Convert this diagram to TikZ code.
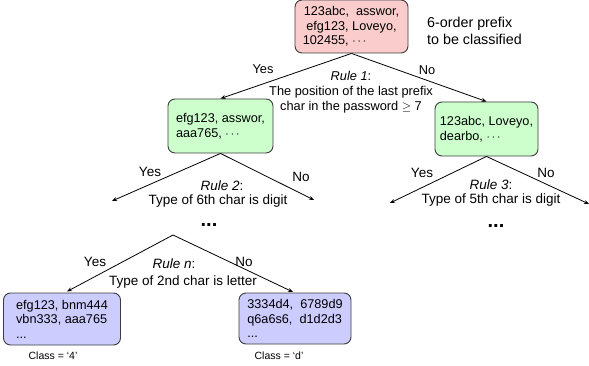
\documentclass[tikz,border=0pt]{standalone}
\usepackage{fontspec}
\setmainfont{Liberation Sans}
\usetikzlibrary{arrows.meta}
\definecolor{pinkfill}{RGB}{250,204,204}
\definecolor{greenfill}{RGB}{204,255,204}
\definecolor{bluefill}{RGB}{204,204,255}
\definecolor{boxline}{RGB}{60,60,60}
\tikzset{
  box/.style={draw=boxline, line width=0.9pt, rounded corners=7pt, inner sep=0pt,
    font=\fontsize{12.7}{14.5}\selectfont},
  conn/.style={line width=0.8pt, -{Stealth[length=5pt,width=4pt]}},
  lbl/.style={font=\fontsize{13.5}{14}\selectfont, inner sep=0pt},
  small/.style={font=\fontsize{12.8}{15}\selectfont, inner sep=0pt},
  cls/.style={font=\fontsize{10.5}{12}\selectfont, inner sep=0pt},
  dots/.style={font=\fontsize{20}{20}\bfseries\selectfont, inner sep=0pt, anchor=base}
}
\begin{document}
\begin{tikzpicture}[x=1pt,y=-1pt]
\useasboundingbox (0,0) rectangle (589,366);
% boxes
\node[box, fill=pinkfill, minimum width=113pt, minimum height=53pt, align=center]
  (root) at (351.5,26.5) {123abc,\ \ asswor,\\ efg123,\ Loveyo,\\102455,\ $\cdots$\hphantom{Lovey}};
\node[lbl, align=left, anchor=west, font=\fontsize{14.3}{16.5}\selectfont] (note) at (427,31) {6-order prefix\\to be classified};
\node[box, fill=greenfill, minimum width=105pt, minimum height=54pt, align=left]
  (lg) at (220.5,126) {efg123, asswor,\\aaa765, $\cdots$};
\node[box, fill=greenfill, minimum width=103pt, minimum height=54pt, align=left]
  (rg) at (486.5,129) {123abc, Loveyo,\\dearbo, $\cdots$};
\node[box, fill=bluefill, minimum width=117pt, minimum height=52pt, align=left]
  (bl) at (62,319) {efg123, bnm444\\vbn333, aaa765\\...};
\node[box, fill=bluefill, minimum width=112pt, minimum height=51pt, align=left]
  (br) at (295,318.5) {3334d4,\ \ 6789d9\\q6a6s6,\ \ d1d2d3\\...};
% free ends
\coordinate (l2) at (112,201);
\coordinate (r2) at (314,200);
\coordinate (l3) at (390,203);
\coordinate (r3) at (589,204);
\coordinate (apex) at (173,235);
% connectors
\draw[conn] (root.south) -- (lg.north);
\draw[conn] (root.south) -- (rg.north);
\draw[conn] (lg.south) -- (l2);
\draw[conn] (lg.south) -- (r2);
\draw[conn] (rg.south) -- (l3);
\draw[conn] (rg.south) -- (r3);
\draw[conn] (apex) -- (67,291.5);
\draw[conn] (apex) -- (293,292);
% rule 1
\node[small] (y1) at (263,69) {Yes};
\node[small] (n1) at (427,70) {No};
\node[small, align=center] (r1) at (351,92) {\textit{Rule 1}:\\The position of the last prefix\\char in the password $\geq$ 7};
% rule 2
\node[lbl] (y2) at (150,172) {Yes};
\node[lbl] (n2) at (301,177) {No};
\node[lbl] (r2a) at (222,186) {\textit{Rule 2}:};
\node[lbl] (r2b) at (218,201) {Type of 6th char is digit};
% rule 3
\node[lbl] (y3) at (422,173) {Yes};
\node[lbl] (n3) at (546,173) {No};
\node[lbl] (r3a) at (491,184.5) {\textit{Rule 3}:};
\node[lbl] (r3b) at (491,200.5) {Type of 5th char is digit};
% dots
\node[dots] (d1) at (209,226.5) {...};
\node[dots] (d2) at (496,227.5) {...};
% rule n
\node[lbl] (yn) at (95,262) {Yes};
\node[lbl] (nn) at (244,262) {No};
\node[lbl] (rna) at (174,264) {\textit{Rule n}:};
\node[lbl] (rnb) at (183,282) {Type of 2nd char is letter};
% classes
\node[cls] (c4) at (53,356) {Class = ‘4’};
\node[cls] (cd) at (279,356) {Class = ‘d’};
\end{tikzpicture}
\end{document}
